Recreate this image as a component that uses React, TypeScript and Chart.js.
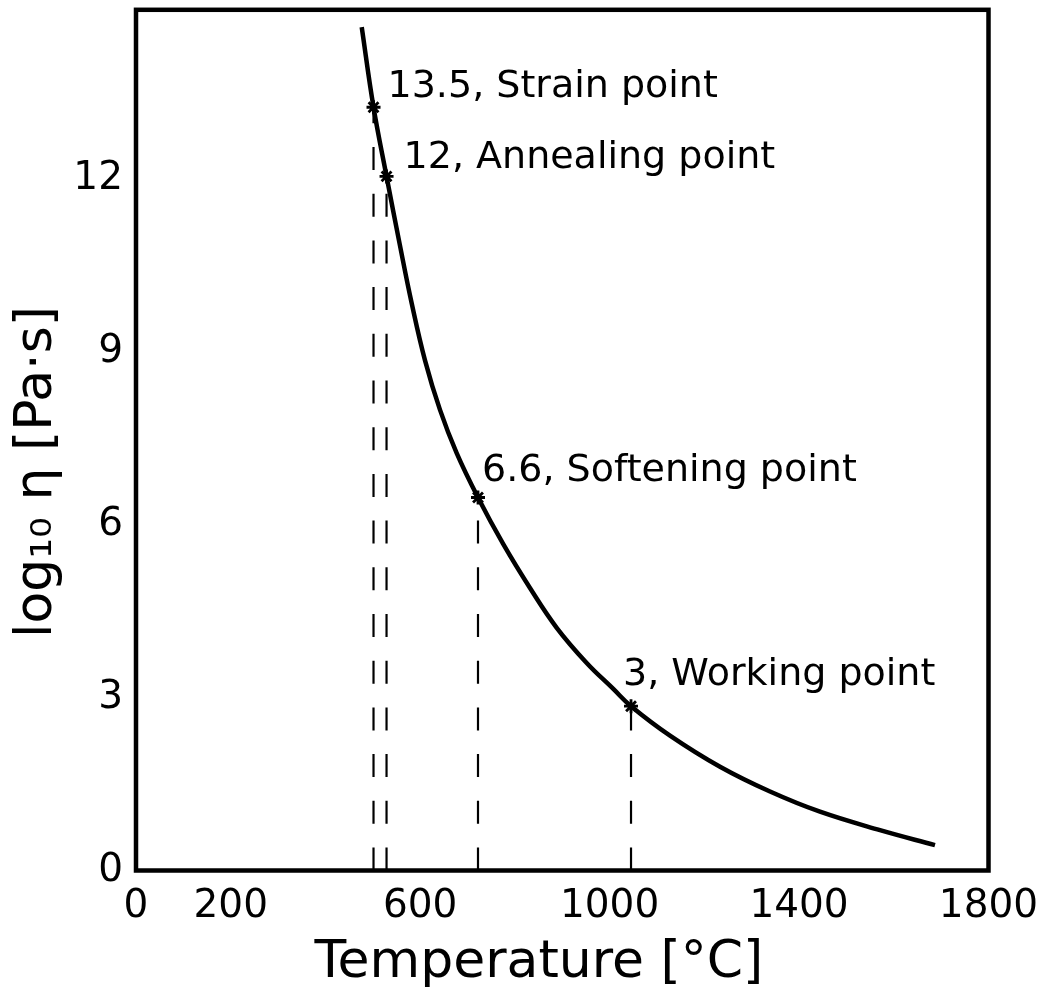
import React, { useEffect, useRef } from "react";
import { Chart, registerables } from "chart.js";

Chart.register(...registerables);

// Viscosity curve (temperature in °C, log10 viscosity in Pa·s)
const curveTemps = [476.6, 501.5, 529.0, 557.4, 582.1, 610.2, 641.9, 677.1, 722.1, 775.5, 831.9, 888.3, 951.6, 1007.8, 1045.2, 1127.5, 1233.1, 1338.7, 1444.2, 1570.9, 1687.0];
const curveLogVisc = [14.63, 13.24, 12.04, 10.84, 9.84, 8.85, 7.99, 7.24, 6.47, 5.66, 4.9, 4.21, 3.6, 3.15, 2.85, 2.34, 1.8, 1.37, 1.02, 0.7, 0.44];

// Reference points
const pointNames = ["13.5, Strain point", "12, Annealing point", "6.6, Softening point", "3, Working point"];
const pointTemps = [501.5, 529.0, 722.1, 1045.2];
const pointLogVisc = [13.24, 12.04, 6.47, 2.85];

// Axis ticks and titles
const xTicks = [0, 200, 600, 1000, 1400, 1800];
const yTicks = [0, 3, 6, 9, 12];
const xMax = 1800;
const yMax = 14.93;
const xTitle = "Temperature [°C]";
const yTitle = "log₁₀ η [Pa·s]";

// Label offsets in pixels (style only)
const labelOffsets = [
  [14, -10],
  [17, -8],
  [4, -17],
  [-8, -21],
];

const FONT = "'DejaVu Sans', sans-serif";

export default function App() {
  const canvasRef = useRef<HTMLCanvasElement | null>(null);

  useEffect(() => {
    const canvas = canvasRef.current;
    if (!canvas) return;

    const frameAndLabels = {
      id: "frameAndLabels",
      afterDatasetsDraw(chart: any) {
        const { ctx, chartArea, scales } = chart;
        ctx.save();
        ctx.strokeStyle = "#000";
        ctx.lineWidth = 4.5;
        ctx.strokeRect(chartArea.left, chartArea.top, chartArea.right - chartArea.left, chartArea.bottom - chartArea.top);
        ctx.fillStyle = "#000";
        ctx.font = `38px ${FONT}`;
        ctx.textAlign = "left";
        ctx.textBaseline = "alphabetic";
        pointNames.forEach((name, i) => {
          const px = scales.x.getPixelForValue(pointTemps[i]);
          const py = scales.y.getPixelForValue(pointLogVisc[i]);
          ctx.fillText(name, px + labelOffsets[i][0], py + labelOffsets[i][1]);
        });
        // axis titles
        ctx.font = `52px ${FONT}`;
        ctx.textAlign = "center";
        ctx.textBaseline = "alphabetic";
        ctx.fillText(xTitle, 539, 977);
        ctx.translate(51, 472);
        ctx.rotate(-Math.PI / 2);
        ctx.fillText(yTitle, 0, 0);
        ctx.restore();
      },
    };

    const guideSets = pointTemps.map((t, i) => ({
      type: "line" as const,
      data: [
        { x: t, y: 0 },
        { x: t, y: pointLogVisc[i] },
      ],
      borderColor: "#000",
      borderWidth: 2.2,
      borderDash: [23, 23.7],
      pointRadius: 0,
      fill: false,
      order: 3,
    }));

    const chart = new Chart(canvas, {
      type: "line",
      data: {
        datasets: [
          {
            data: curveTemps.map((t, i) => ({ x: t, y: curveLogVisc[i] })),
            borderColor: "#000",
            borderWidth: 4.5,
            pointRadius: 0,
            tension: 0.4,
            fill: false,
            order: 2,
          },
          ...guideSets,
          {
            data: pointTemps.map((t, i) => ({ x: t, y: pointLogVisc[i] })),
            showLine: false,
            pointStyle: "star",
            pointRadius: 7,
            pointBorderWidth: 2.8,
            pointBorderColor: "#000",
            pointBackgroundColor: "#000",
            order: 1,
          },
        ] as any,
      },
      options: {
        animation: false,
        responsive: false,
        devicePixelRatio: 1,
        layout: { padding: { left: 0, top: 9.5, right: 52.5, bottom: 0 } },
        plugins: {
          legend: { display: false },
          tooltip: { enabled: false },
        },
        scales: {
          x: {
            type: "linear",
            min: 0,
            max: xMax,
            grid: { display: false, drawTicks: false },
            border: { display: false },
            afterBuildTicks: (scale: any) => {
              scale.ticks = xTicks.map((v) => ({ value: v }));
            },
            afterFit: (scale: any) => {
              scale.height = 116.5;
              scale.paddingLeft = 0;
              scale.paddingRight = 0;
            },
            ticks: {
              color: "#000",
              padding: 13,
              maxRotation: 0,
              autoSkip: false,
              font: { family: FONT, size: 39 },
              callback: (v: any) => String(v),
            },
            title: { display: false },
          },
          y: {
            type: "linear",
            min: 0,
            max: yMax,
            grid: { display: false, drawTicks: false },
            border: { display: false },
            afterBuildTicks: (scale: any) => {
              scale.ticks = yTicks.map((v) => ({ value: v }));
            },
            afterFit: (scale: any) => {
              scale.width = 136;
              scale.paddingTop = 0;
              scale.paddingBottom = 0;
            },
            ticks: {
              color: "#000",
              padding: 13,
              autoSkip: false,
              font: { family: FONT, size: 39 },
              callback: (v: any) => String(v),
            },
            title: { display: false },
          },
        },
      },
      plugins: [frameAndLabels],
    } as any);

    return () => chart.destroy();
  }, []);

  return (
    <div style={{ position: "absolute", left: 0, top: 0, width: 1041, height: 987, background: "#fff" }}>
      <canvas ref={canvasRef} width={1041} height={987} style={{ display: "block" }} />
    </div>
  );
}
